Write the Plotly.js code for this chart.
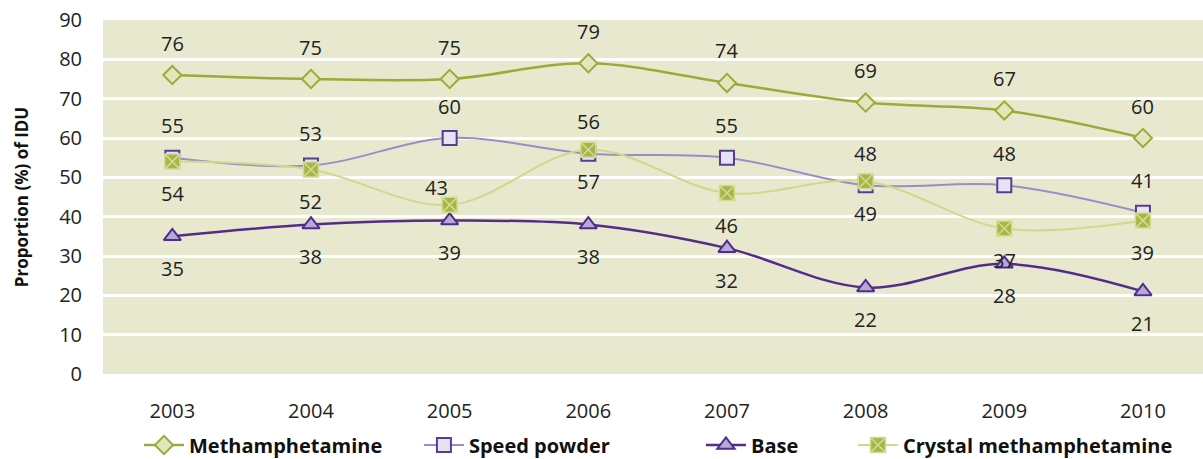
<!DOCTYPE html>
<html>
<head>
<meta charset="utf-8">
<script src="https://cdn.plot.ly/plotly-3.0.1.min.js"></script>
<style>html,body{margin:0;padding:0;background:#fff;}#chart{width:1203px;height:459px;}</style>
</head>
<body>
<div id="chart"></div>
<script>
// ---- data ----
const years = ["2003", "2004", "2005", "2006", "2007", "2008", "2009", "2010"];
const methamphetamine = [76, 75, 75, 79, 74, 69, 67, 60];
const speedPowder = [55, 53, 60, 56, 55, 48, 48, 41];
const base = [35, 38, 39, 38, 32, 22, 28, 21];
const crystalMeth = [54, 52, 43, 57, 46, 49, 37, 39];
const seriesNames = ["Methamphetamine", "Speed powder", "Base", "Crystal methamphetamine"];
const yTicks = [0, 10, 20, 30, 40, 50, 60, 70, 80, 90];

// ---- styles ----
const FONT = "'Open Sans', 'Noto Sans', sans-serif";
const styles = [
  {line: {color: '#9aab3a', width: 2.5}, marker: {symbol: 'diamond', size: 14, color: '#e3e6bd', line: {color: '#9aab3a', width: 2}}, shift: 32, legendX: 0.0327},
  {line: {color: '#9d8bc9', width: 2}, marker: {symbol: 'square', size: 14, color: '#e6e4f4', line: {color: '#5a3b92', width: 2}}, shift: 32, legendX: 0.2872},
  {line: {color: '#502d89', width: 2.5}, marker: {symbol: 'triangle-up', size: 15, color: '#b6a9d6', line: {color: '#502d89', width: 2}}, shift: -32, legendX: 0.5436},
  {line: {color: '#cfd98b', width: 2}, marker: {symbol: 'square-x', size: 15, color: '#a7b64a', line: {color: '#d3dc8e', width: 1.5}}, shift: -32, legendX: 0.6818}
];
const allSeries = [methamphetamine, speedPowder, base, crystalMeth];
const legendIds = ['legend', 'legend2', 'legend3', 'legend4'];

const traces = allSeries.map((vals, i) => ({
  type: 'scatter', mode: 'lines+markers', name: seriesNames[i],
  x: years, y: vals,
  line: Object.assign({shape: 'spline', smoothing: 1}, styles[i].line),
  marker: styles[i].marker,
  legend: legendIds[i],
  hoverinfo: 'skip'
}));

const annotations = [];
allSeries.forEach((vals, i) => {
  vals.forEach((v, j) => {
    let ys = styles[i].shift, xs = 0;
    if (i === 3 && j === 2) { ys = 17; xs = -13; }
    annotations.push({
      x: j, y: v, xref: 'x', yref: 'y', text: String(v), showarrow: false,
      yshift: ys, xshift: xs, font: {family: FONT, size: 20, color: '#222'}
    });
  });
});

const layout = {
  width: 1203, height: 459,
  margin: {l: 103, r: 0, t: 20, b: 85, autoexpand: false},
  paper_bgcolor: '#ffffff', plot_bgcolor: '#e8e8cf',
  font: {family: FONT, size: 20, color: '#222'},
  showlegend: true,
  xaxis: {
    type: 'category', range: [-0.5, 7.433], showgrid: false, zeroline: false, showline: false,
    ticks: 'outside', ticklen: 19, tickcolor: 'rgba(0,0,0,0)',
    tickfont: {family: FONT, size: 20, color: '#222'}, fixedrange: true
  },
  yaxis: {
    range: [0, 90], tickvals: yTicks, ticktext: yTicks.map(String),
    showgrid: true, gridcolor: '#ffffff', gridwidth: 3, zeroline: false, showline: false,
    ticks: 'outside', ticklen: 16, tickcolor: 'rgba(0,0,0,0)',
    tickfont: {family: FONT, size: 20, color: '#222'},
    title: {text: 'Proportion (%) of IDU', font: {family: FONT, size: 17, color: '#111', weight: 'bold'}, standoff: 26},
    fixedrange: true
  },
  annotations: annotations
};
legendIds.forEach((id, i) => {
  layout[id] = {
    orientation: 'h', x: styles[i].legendX, xanchor: 'left',
    yref: 'container', y: 14 / 459, yanchor: 'middle',
    font: {family: FONT, size: 20, color: '#111', weight: 'bold'},
    bgcolor: 'rgba(0,0,0,0)', borderwidth: 0, itemwidth: 40
  };
});

Plotly.newPlot('chart', traces, layout, {displayModeBar: false, staticPlot: true});
</script>
</body>
</html>
